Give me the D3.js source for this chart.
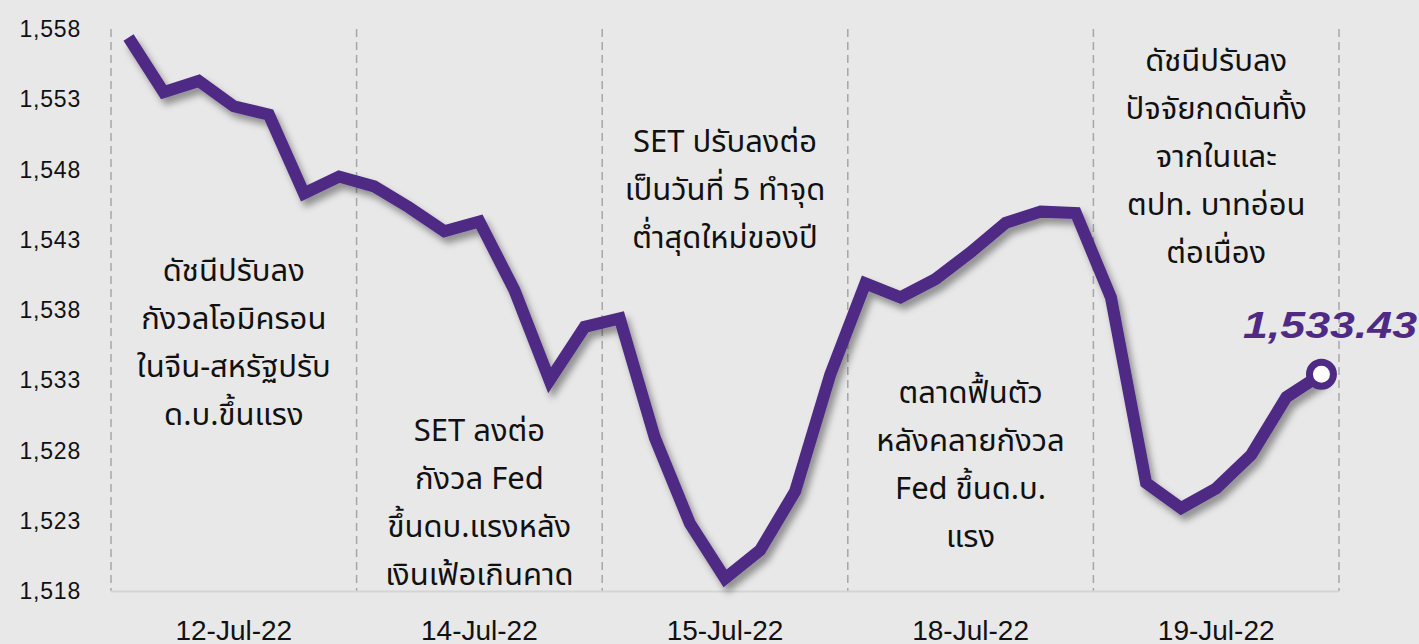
<!DOCTYPE html>
<html>
<head>
<meta charset="utf-8">
<script src="https://cdn.jsdelivr.net/npm/d3@7"></script>
<style>
  html, body { margin: 0; padding: 0; background: #e8e8e8; }
  svg { display: block; }
</style>
</head>
<body>
<svg id="chart"></svg>
<script>
const width = 1419;
const height = 644;

// trading days shown on the x axis
const days = ["12-Jul-22", "14-Jul-22", "15-Jul-22", "18-Jul-22", "19-Jul-22"];

// intraday SET index, 7 readings per day
const setIndex = [
  1557.4, 1553.5, 1554.3, 1552.5, 1551.9, 1546.3, 1547.5,
  1546.8, 1545.3, 1543.6, 1544.3, 1539.4, 1533.0, 1536.8,
  1537.4, 1528.9, 1522.8, 1518.9, 1520.9, 1525.1, 1533.4,
  1539.9, 1538.9, 1540.2, 1542.1, 1544.2, 1545.0, 1544.9,
  1538.9, 1525.7, 1523.9, 1525.3, 1527.7, 1531.8, 1533.43
];

const yTicks = [1518, 1523, 1528, 1533, 1538, 1543, 1548, 1553, 1558];

// one note per day, split in lines
const notes = [
  ["ดัชนีปรับลง", "กังวลโอมิครอน", "ในจีน-สหรัฐปรับ", "ด.บ.ขึ้นแรง"],
  ["SET ลงต่อ", "กังวล Fed", "ขึ้นดบ.แรงหลัง", "เงินเฟ้อเกินคาด"],
  ["SET ปรับลงต่อ", "เป็นวันที่ 5 ทำจุด", "ต่ำสุดใหม่ของปี"],
  ["ตลาดฟื้นตัว", "หลังคลายกังวล", "Fed ขึ้นด.บ.", "แรง"],
  ["ดัชนีปรับลง", "ปัจจัยกดดันทั้ง", "จากในและ", "ตปท. บาทอ่อน", "ต่อเนื่อง"]
];
const noteTop = [270, 430, 141, 392, 60];

const lastLabel = "1,533.43";

const margin = { top: 29, right: 80, bottom: 53, left: 111 };
const x0 = margin.left, x1 = width - margin.right;
const yTop = margin.top, yBottom = height - margin.bottom;

const svg = d3.select("#chart").attr("width", width).attr("height", height);

svg.append("rect").attr("width", width).attr("height", height).attr("fill", "#e8e8e8");

const defs = svg.append("defs");
const shadow = defs.append("filter").attr("id", "shadow")
  .attr("x", "-10%").attr("y", "-10%").attr("width", "130%").attr("height", "130%");
shadow.append("feDropShadow")
  .attr("dx", 4).attr("dy", 6).attr("stdDeviation", 3.5)
  .attr("flood-color", "#000").attr("flood-opacity", 0.38);

const xDay = d3.scaleBand().domain(days).range([x0, x1]);
const xPt = d3.scalePoint().domain(d3.range(setIndex.length)).range([x0, x1]).padding(0.5);
const y = d3.scaleLinear().domain([1518, 1558]).range([yBottom, yTop]);

// dashed separators between days
const seps = days.map(d => xDay(d)).concat([x1]);
svg.append("g").selectAll("line").data(seps).join("line")
  .attr("x1", d => d).attr("x2", d => d)
  .attr("y1", yTop).attr("y2", yBottom)
  .attr("stroke", "#a6a6a6").attr("stroke-width", 1.5)
  .attr("stroke-dasharray", "8,5");

// bottom axis line
svg.append("line")
  .attr("x1", x0).attr("x2", x1).attr("y1", yBottom + 0.5).attr("y2", yBottom + 0.5)
  .attr("stroke", "#d4d4d4").attr("stroke-width", 2);

// y tick labels
svg.append("g").selectAll("text").data(yTicks).join("text")
  .attr("x", 81).attr("y", d => y(d))
  .attr("dy", "0.35em")
  .attr("text-anchor", "end")
  .attr("font-family", "Arial, 'Liberation Sans', sans-serif")
  .attr("font-size", 23)
  .attr("letter-spacing", 0.8)
  .attr("fill", "#111")
  .text(d => d3.format(",")(d));

// day labels (cut by the bottom edge as in the source)
svg.append("g").selectAll("text").data(days).join("text")
  .attr("x", d => xDay(d) + xDay.bandwidth() / 2)
  .attr("y", 640)
  .attr("text-anchor", "middle")
  .attr("font-family", "Arial, 'Liberation Sans', sans-serif")
  .attr("font-size", 28)
  .attr("fill", "#111")
  .text(d => d);

// notes
const thaiFont = "Tahoma, 'Leelawadee UI', 'Noto Sans Thai', 'Noto Sans', 'DejaVu Sans', sans-serif";
notes.forEach((lines, i) => {
  const t = svg.append("text")
    .attr("text-anchor", "middle")
    .attr("font-family", thaiFont)
    .attr("font-size", 31)
    .attr("fill", "#111");
  lines.forEach((s, j) => {
    t.append("tspan")
      .attr("x", xDay(days[i]) + xDay.bandwidth() / 2)
      .attr("y", noteTop[i] + j * 48)
      .attr("dy", "0.35em")
      .text(s);
  });
});

// index line
const line = d3.line().x((d, i) => xPt(i)).y(d => y(d));
svg.append("path")
  .datum(setIndex)
  .attr("d", line)
  .attr("fill", "none")
  .attr("stroke", "#4f2a84")
  .attr("stroke-width", 12)
  .attr("stroke-linejoin", "miter")
  .attr("stroke-linecap", "butt")
  .attr("filter", "url(#shadow)");

// end point marker
const last = setIndex.length - 1;
svg.append("circle")
  .attr("cx", xPt(last)).attr("cy", y(setIndex[last]))
  .attr("r", 12)
  .attr("fill", "#fff")
  .attr("stroke", "#4f2a84")
  .attr("stroke-width", 7);

svg.append("text")
  .attr("x", 1243).attr("y", 338)
  .attr("font-family", "Arial, 'Liberation Sans', sans-serif")
  .attr("font-size", 37)
  .attr("font-weight", "bold")
  .attr("font-style", "italic")
  .attr("fill", "#4f2a84")
  .attr("textLength", 174)
  .attr("lengthAdjust", "spacingAndGlyphs")
  .text(lastLabel);
</script>
</body>
</html>
